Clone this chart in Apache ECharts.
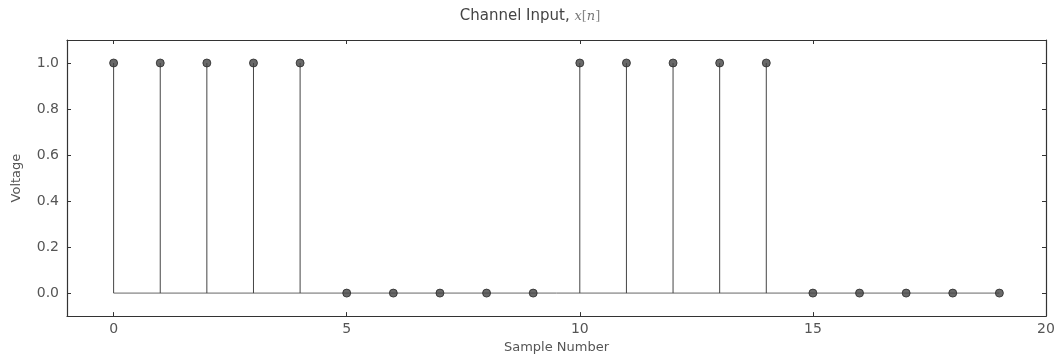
<!DOCTYPE html>
<html>
<head>
<meta charset="utf-8">
<script src="https://cdn.jsdelivr.net/npm/echarts@6/dist/echarts.min.js"></script>
<style>
  html, body { margin: 0; padding: 0; background: #fff; }
  #chart { width: 1060px; height: 359px; }
</style>
</head>
<body>
<div id="chart"></div>
<script>
const sampleIndex = [0, 1, 2, 3, 4, 5, 6, 7, 8, 9, 10, 11, 12, 13, 14, 15, 16, 17, 18, 19];
const voltage = [1, 1, 1, 1, 1, 0, 0, 0, 0, 0, 1, 1, 1, 1, 1, 0, 0, 0, 0, 0];
const xTicks = [0, 5, 10, 15, 20];
const yTicks = [0.0, 0.2, 0.4, 0.6, 0.8, 1.0];

const axisColor = "#333";
const labelColor = "#555";
const stemColor = "#444";
const font = "DejaVu Sans, sans-serif";

const points = sampleIndex.map((n, i) => [n, voltage[i]]);

const chart = echarts.init(document.getElementById("chart"), null, { renderer: "canvas" });

const tick = (values) => ({
  show: true,
  inside: true,
  length: 4,
  lineStyle: { color: axisColor, width: 1 },
  customValues: values,
});
const line = { show: true, onZero: false, lineStyle: { color: axisColor, width: 1.2 } };

chart.setOption({
  animation: false,
  title: {
    text: "Channel Input, {m|x}{b|[}{m|n}{b|]}",
    left: "center",
    top: 4,
    textStyle: {
      fontFamily: font,
      fontSize: 15,
      fontWeight: "normal",
      color: "#444",
      rich: {
        m: { fontFamily: "DejaVu Serif, serif", fontStyle: "italic", fontSize: 13, color: "#777" },
        b: { fontFamily: "DejaVu Serif, serif", fontSize: 13, color: "#888" },
      },
    },
  },
  grid: { left: 67, right: 14, top: 40, bottom: 42 },
  xAxis: [
    {
      type: "value",
      min: -1,
      max: 20,
      position: "bottom",
      name: "Sample Number",
      nameLocation: "middle",
      nameGap: 22,
      nameTextStyle: { fontFamily: font, fontSize: 13, color: labelColor },
      axisLine: line,
      axisLabel: { fontFamily: font, fontSize: 14, color: labelColor, margin: 6, customValues: xTicks },
      axisTick: tick(xTicks),
      splitLine: { show: false },
    },
    {
      type: "value",
      min: -1,
      max: 20,
      position: "top",
      axisLine: line,
      axisLabel: { show: false },
      axisTick: tick(xTicks),
      splitLine: { show: false },
    },
  ],
  yAxis: [
    {
      type: "value",
      min: -0.1,
      max: 1.1,
      position: "left",
      name: "Voltage",
      nameLocation: "middle",
      nameGap: 44,
      nameTextStyle: { fontFamily: font, fontSize: 13, color: labelColor },
      axisLine: line,
      axisLabel: {
        fontFamily: font,
        fontSize: 14,
        color: labelColor,
        margin: 8,
        customValues: yTicks,
        formatter: (v) => v.toFixed(1),
      },
      axisTick: tick(yTicks),
      splitLine: { show: false },
    },
    {
      type: "value",
      min: -0.1,
      max: 1.1,
      position: "right",
      axisLine: line,
      axisLabel: { show: false },
      axisTick: tick(yTicks),
      splitLine: { show: false },
    },
  ],
  series: [
    {
      // baseline
      type: "line",
      data: [[sampleIndex[0], 0], [sampleIndex[sampleIndex.length - 1], 0]],
      symbol: "none",
      lineStyle: { color: "#666", width: 1 },
      silent: true,
      z: 1,
    },
    {
      // stems
      type: "custom",
      data: points,
      silent: true,
      z: 2,
      renderItem: (params, api) => {
        const top = api.coord([api.value(0), api.value(1)]);
        const base = api.coord([api.value(0), 0]);
        return {
          type: "line",
          shape: { x1: top[0], y1: top[1], x2: base[0], y2: base[1] },
          style: { stroke: stemColor, lineWidth: 1 },
        };
      },
    },
    {
      // markers
      type: "scatter",
      data: points,
      symbol: "circle",
      symbolSize: 8,
      itemStyle: { color: "#444", borderColor: "#2a2a2a", borderWidth: 1 },
      silent: true,
      z: 3,
    },
  ],
});
</script>
</body>
</html>
